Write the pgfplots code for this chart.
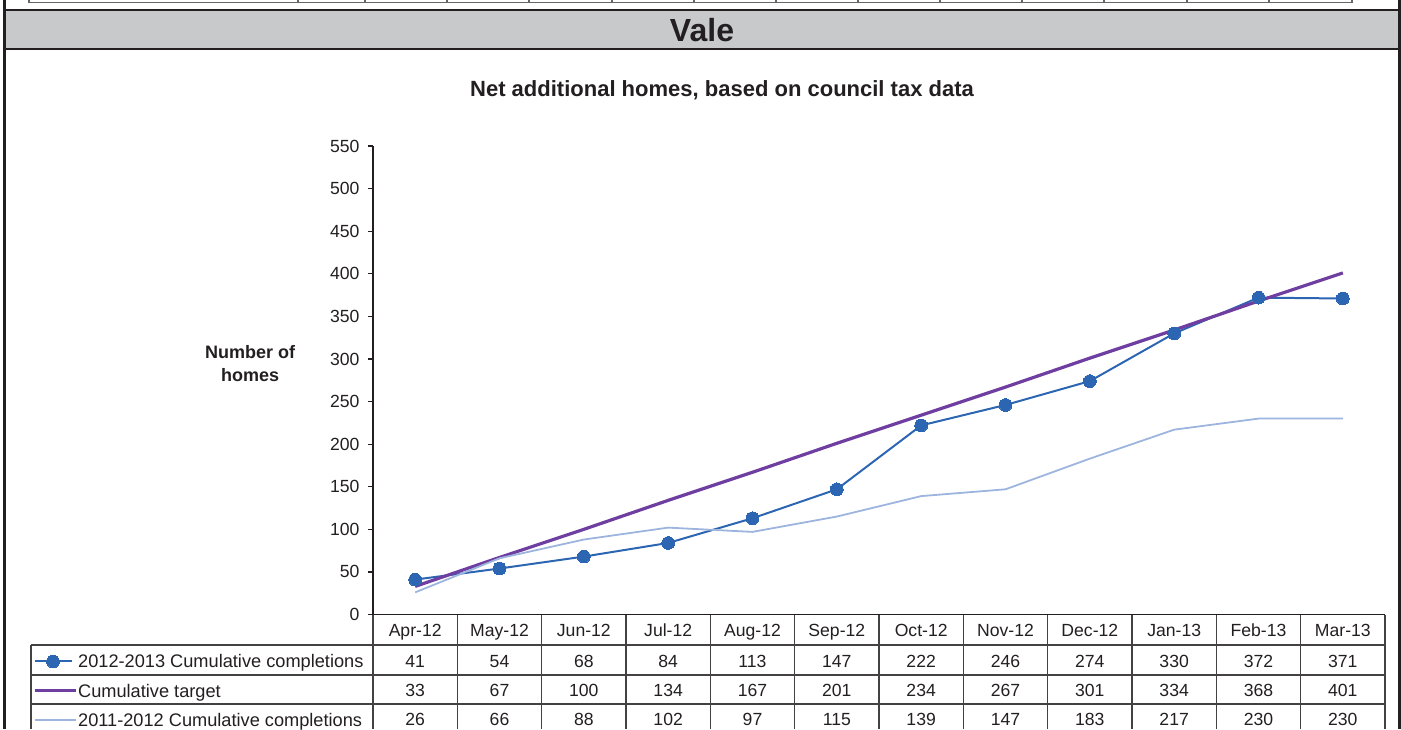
\documentclass[border=0pt]{standalone}
\usepackage{pgfplots}
\pgfplotsset{compat=1.18}
\usepackage{pgfplotstable}
\usepackage{fontspec}
\setmainfont{Liberation Sans}

\definecolor{doneblue}{HTML}{2C66B3}
\definecolor{target}{HTML}{6E3FA0}
\definecolor{prevyr}{HTML}{9DB5DE}
\definecolor{band}{HTML}{C8C9CB}
\definecolor{ink}{HTML}{231F20}

% legend keys that sit in the label column of the data table
\pgfplotsset{
  keyline/.style={legend image code/.code={\draw[##1] (0pt,0pt) -- (20.5pt,0pt);}},
  keymark/.style={legend image code/.code={\draw[mark repeat=2,mark phase=2,##1]
      plot coordinates {(0pt,0pt)(9.25pt,0pt)(18.5pt,0pt)};}},
}

% cumulative completions and target, Vale
\pgfplotstableread{
idx month  done target prev
0   Apr-12 41   33     26
1   May-12 54   67     66
2   Jun-12 68   100    88
3   Jul-12 84   134    102
4   Aug-12 113  167    97
5   Sep-12 147  201    115
6   Oct-12 222  234    139
7   Nov-12 246  267    147
8   Dec-12 274  301    183
9   Jan-13 330  334    217
10  Feb-13 372  368    230
11  Mar-13 371  401    230
}\homes

\begin{document}
\begin{tikzpicture}[x=0.5pt,y=0.5pt]
% header band and page frame
\fill[band] (4,-10) rectangle (1399,-49);
\draw[ink,line width=1.3pt] (4,-10) -- (1399,-10) (4,-49) -- (1399,-49);
\draw[ink,line width=1.5pt] (4,0) -- (4,-729) (1399,0) -- (1399,-729);
\node[font=\fontsize{16}{19}\selectfont\bfseries,text=ink] at (702,-30) {Vale};
\node[font=\fontsize{11}{13}\selectfont\bfseries,text=ink] at (722,-90)
  {Net additional homes, based on council tax data};
% bottom of the previous table
\draw[black!60,line width=0.6pt] (29,-2.5) -- (1352,-2.5);
\foreach \x in {29,298,365,447,529,612,694,776,858,940,1022,1104,1187,1269,1352}
  \draw[black!60,line width=0.6pt] (\x,0) -- (\x,-2.5);

\begin{axis}[
    at={(186.5pt,-307.25pt)}, anchor=south west,
    scale only axis, width=506pt, height=234.25pt,
    xmin=-0.5, xmax=11.5, ymin=0, ymax=550,
    axis y line*=left, axis x line*=bottom,
    axis line style={ink,line width=0.6pt},
    ytick={0,50,...,550},
    tick align=outside, major tick length=2.5pt,
    ytick style={ink,line width=0.6pt},
    xtick={0,...,11}, xtick style={draw=none},
    xticklabels from table={\homes}{month},
    tick label style={font=\fontsize{8.8}{10}\selectfont,text=ink},
    /pgf/number format/assume math mode=true,
    yticklabel style={xshift=-0.75pt},
    xticklabel style={anchor=center,yshift=-5.5pt,text height=6.3pt,text depth=0pt},
    every axis y label/.style={at={(axis description cs:-0.1215,0.536)},anchor=center,
        align=center,font=\fontsize{9}{11.5}\selectfont\bfseries,text=ink},
    ylabel={Number of\\homes},
    clip=false,
    legend style={at={(axis description cs:-0.336,-0.0864)},anchor=north west,
        draw=none,fill=none,inner sep=0pt,outer sep=0pt,
        row sep=8.2pt,column sep=0.5pt,
        font=\fontsize{9.1}{10}\selectfont,text=ink,
        nodes={inner sep=0pt,text height=6.5pt,text depth=0pt}},
    legend cell align=left,
]
\addplot[doneblue,line width=1pt,mark=*,mark size=3.2pt,
    mark options={solid,fill=doneblue,draw=doneblue,line width=0pt},keymark]
    table[x=idx,y=done]{\homes};
\addplot[target,line width=1.6pt,mark=none,keyline]
    table[x=idx,y=target]{\homes};
\addplot[prevyr,line width=0.9pt,mark=none,keyline]
    table[x=idx,y=prev]{\homes};
\legend{2012-2013 Cumulative completions,Cumulative target,2011-2012 Cumulative completions}

% values in the data table under the chart
\pgfplotsset{every node near coord/.style={anchor=center,text=ink,
    font=\fontsize{8.8}{10}\selectfont,text height=6.3pt,text depth=0pt,inner sep=0pt}}
\addplot[draw=none,mark=none,forget plot,nodes near coords,point meta=explicit]
    table[x=idx,y expr=-54.6,meta=done]{\homes};
\addplot[draw=none,mark=none,forget plot,nodes near coords,point meta=explicit]
    table[x=idx,y expr=-88.6,meta=target]{\homes};
\addplot[draw=none,mark=none,forget plot,nodes near coords,point meta=explicit]
    table[x=idx,y expr=-122.7,meta=prev]{\homes};
\end{axis}

% data table grid
\begin{scope}[ink!85,line width=0.6pt]
\draw (31,-645) -- (1385,-645) (31,-675) -- (1385,-675) (31,-704) -- (1385,-704);
\draw (31,-645) -- (31,-729) (373,-614.5) -- (373,-729);
\foreach \k in {1,...,12}
  \draw ({373+84.333*\k},-614.5) -- ({373+84.333*\k},-729);
\end{scope}

\pgfresetboundingbox
\path[use as bounding box] (0,0) rectangle (1401,-729);
\end{tikzpicture}
\end{document}
